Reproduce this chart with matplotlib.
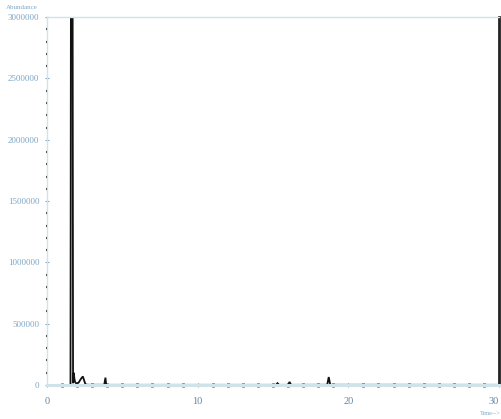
import matplotlib
matplotlib.use('Agg')
import matplotlib.pyplot as plt
import numpy as np

# chromatogram trace, vertices (time in min, abundance)
times = [1.50, 1.56, 1.59, 1.70, 1.73, 1.75, 1.78, 1.81, 1.86, 1.95, 2.10,
         2.25, 2.38, 2.46, 2.55, 2.70, 3.80, 3.88, 3.93, 4.00, 15.20, 15.30,
         15.40, 16.00, 16.10, 16.20, 18.60, 18.70, 18.80, 30.0]
abundance = [0, 8000, 3300000, 3300000, 15000, 40000, 100000, 60000, 25000,
             12000, 20000, 50000, 70000, 40000, 6000, 2000, 2000, 60000, 2000,
             1500, 1500, 15000, 1500, 1500, 25000, 1500, 2000, 65000, 2000, 1500]

x_ticks = [0, 10, 20, 30]
y_ticks = [0, 500000, 1000000, 1500000, 2000000, 2500000, 3000000]

label_col = '#7fa6c4'
rule_col = '#cfe3e8'

plt.rcParams['font.family'] = ['Liberation Serif', 'DejaVu Serif']

fig = plt.figure(figsize=(5.02, 4.19), dpi=100)
ax = fig.add_axes([0.0936, 0.0811, 0.9004, 0.8779])

ax.plot(times, abundance, color='#111111', linewidth=1.3, solid_joinstyle='miter')

ax.set_xlim(0, 30)
ax.set_ylim(0, 3000000)

ax.set_xticks(x_ticks)
ax.set_xticklabels([str(t) for t in x_ticks])
ax.get_xticklabels()[-1].set_ha('right')
ax.set_xticks(np.arange(0, 31, 1), minor=True)
ax.set_yticks(y_ticks)
ax.set_yticklabels([str(v) for v in y_ticks])
ax.set_yticks(np.arange(0, 3000001, 100000), minor=True)

ax.tick_params(axis='both', which='major', labelsize=6.5, labelcolor=label_col,
               color=label_col, length=3, width=0.8, direction='inout')
ax.tick_params(axis='both', which='minor', color='#333333', length=2,
               width=1.6, direction='inout')
ax.tick_params(axis='x', which='minor', length=3.5, width=2.0, color='#444444')
ax.tick_params(axis='x', which='major', pad=7, labelsize=7.5,
               labelcolor='#5f86a8')
ax.tick_params(axis='y', which='major', pad=4)

for side in ('left', 'top'):
    ax.spines[side].set_color(rule_col)
    ax.spines[side].set_linewidth(1.0)
ax.spines['bottom'].set_color(rule_col)
ax.spines['bottom'].set_linewidth(2.2)
ax.spines['right'].set_color('#222222')
ax.spines['right'].set_linewidth(2.0)

fig.text(0.012, 0.988, 'Abundance', fontsize=5, color=label_col,
         ha='left', va='top')
fig.text(0.997, 0.006, 'Time-->', fontsize=4.5, color=label_col,
         ha='right', va='bottom')

fig.savefig('out.png', dpi=100, facecolor='white')
